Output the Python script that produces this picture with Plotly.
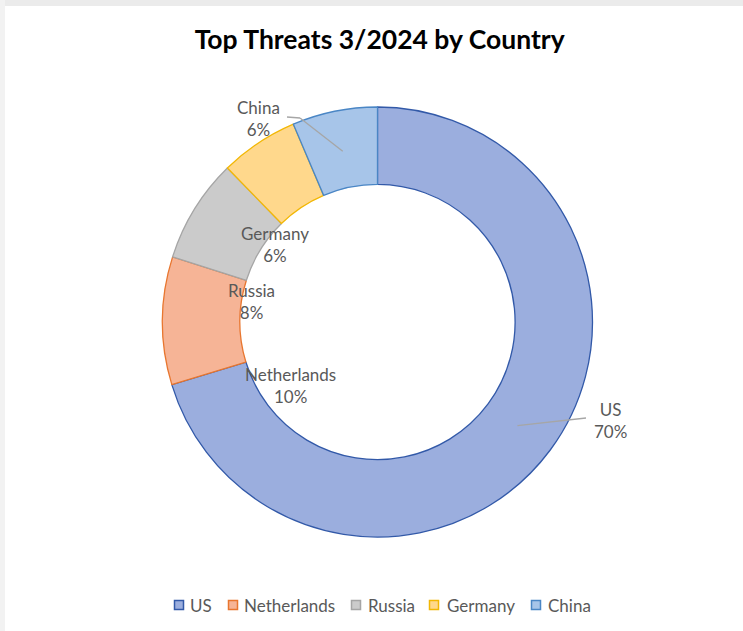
import math
import plotly.graph_objects as go

# data
countries = ["US", "Netherlands", "Russia", "Germany", "China"]
shares = [70.3, 9.6, 7.8, 5.9, 6.4]
fill_colors = ["#9BAEDE", "#F6B496", "#CBCBCB", "#FFD88C", "#A7C5E9"]
edge_colors = ["#3259A8", "#E8762F", "#A5A5A5", "#F2B705", "#4A86C5"]

W, H = 743, 631
CX, CY, R = 377.5, 322, 215
HOLE = 0.64
FONT = "Lato, Calibri, sans-serif"

# label centres in pixels (Excel style placement)
label_pos = {
    "US": (610, 420),
    "Netherlands": (290, 385),
    "Russia": (251, 301),
    "Germany": (275, 244),
    "China": (258, 118),
}
# labels that get a leader line: elbow point in pixels
leaders = {"US": (586, 418), "China": (300, 118)}
# legend: square centre x and text left x, in pixels
legend_x = {"US": (179, 188), "Netherlands": (233, 242), "Russia": (356, 366),
            "Germany": (434, 445), "China": (536, 546)}
LEGEND_Y = 605


def px_x(x):
    return x / W


def px_y(y):
    return 1 - y / H


fig = go.Figure(go.Pie(
    labels=countries,
    values=shares,
    hole=HOLE,
    sort=False,
    direction="clockwise",
    rotation=0,
    textinfo="none",
    hoverinfo="label+percent",
    marker=dict(colors=fill_colors, line=dict(color=edge_colors, width=1.3)),
    domain=dict(x=[px_x(CX - R), px_x(CX + R)], y=[px_y(CY + R), px_y(CY - R)]),
))

total = sum(shares)
annotations = []
shapes = []
cum = 0
for name, v, fc, ec in zip(countries, shares, fill_colors, edge_colors):
    mid = (cum + v / 2) / total * 2 * math.pi
    cum += v
    pct = round(v / total * 100)
    lx, ly = label_pos[name]
    annotations.append(dict(
        x=px_x(lx), y=px_y(ly), xref="paper", yref="paper",
        xanchor="center", yanchor="middle",
        text=f"{name}<br>{pct}%", showarrow=False,
        font=dict(size=17, color="#595959", family=FONT),
        align="center",
    ))
    if name in leaders:
        rr = R * 0.81
        ex = CX + rr * math.sin(mid)
        ey = CY - rr * math.cos(mid)
        bx, by = leaders[name]
        if name == "China":
            shapes.append(dict(type="line", xref="paper", yref="paper",
                               x0=px_x(287), y0=px_y(117), x1=px_x(bx), y1=px_y(by),
                               line=dict(color="#A6A6A6", width=1.3)))
        shapes.append(dict(type="line", xref="paper", yref="paper",
                           x0=px_x(bx), y0=px_y(by), x1=px_x(ex), y1=px_y(ey),
                           line=dict(color="#A6A6A6", width=1.3)))

    # legend entry
    sx, tx = legend_x[name]
    shapes.append(dict(type="rect", xref="paper", yref="paper",
                       x0=px_x(sx - 4.5), x1=px_x(sx + 4.5),
                       y0=px_y(LEGEND_Y + 4.5), y1=px_y(LEGEND_Y - 4.5),
                       fillcolor=fc, line=dict(color=ec, width=1.5)))
    annotations.append(dict(
        x=px_x(tx), y=px_y(LEGEND_Y), xref="paper", yref="paper",
        xanchor="left", yanchor="middle", text=name, showarrow=False,
        font=dict(size=17, color="#595959", family=FONT),
    ))

# window frame shadow at top and left
shapes.append(dict(type="rect", xref="paper", yref="paper", x0=0, x1=1,
                   y0=px_y(6), y1=1, fillcolor="#EBEBEB", line=dict(width=0), layer="below"))
shapes.append(dict(type="rect", xref="paper", yref="paper", x0=0, x1=px_x(5),
                   y0=0, y1=1, fillcolor="#F2F2F2", line=dict(width=0), layer="below"))

fig.update_layout(
    width=W, height=H,
    margin=dict(l=0, r=0, t=0, b=0),
    paper_bgcolor="white",
    title=dict(text="<b>Top Threats 3/2024 by Country</b>", x=0.511, xanchor="center",
               y=px_y(40), yanchor="middle",
               font=dict(size=26.5, color="#000000", family=FONT)),
    showlegend=False,
    annotations=annotations,
    shapes=shapes,
)

fig.write_html("out.html", config={"displayModeBar": False},
               post_script="document.body.style.margin='0';")
